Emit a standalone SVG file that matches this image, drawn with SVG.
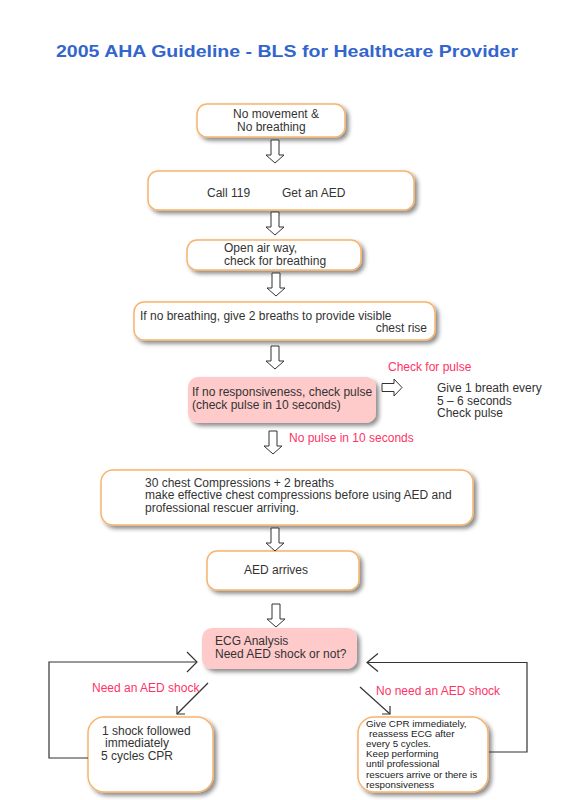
<svg xmlns="http://www.w3.org/2000/svg" xmlns:xlink="http://www.w3.org/1999/xlink" width="570" height="800" viewBox="0 0 570 800">
<style>
  text { font-family: "Liberation Sans", Arial, sans-serif; font-size: 12px; fill: #333333; }
  .title { font-size: 16.5px; font-weight: bold; fill: #3366cc; }
  .red { fill: #ff3366; }
  .small { font-size: 9.8px; fill: #222222; }
  .box { fill: #ffffff; stroke: #f7b46e; stroke-width: 1.5; }
  .pink { fill: #ffcaca; stroke: none; }
  .blk { fill: #ffffff; stroke: #333333; stroke-width: 1; }
  .conn { fill: none; stroke: #333333; stroke-width: 1.2; }
</style>
<defs>
  <filter id="sh" x="-10%" y="-10%" width="130%" height="140%">
    <feDropShadow dx="3" dy="3" stdDeviation="2" flood-color="#000000" flood-opacity="0.45"/>
  </filter>
  <path id="da" d="M-4,0 H4 V15 H9 L0,23 L-9,15 H-4 Z"/>
</defs>
<rect width="570" height="800" fill="#ffffff"/>
<text class="title" x="287" y="56.5" text-anchor="middle" textLength="462" lengthAdjust="spacingAndGlyphs">2005 AHA Guideline - BLS for Healthcare Provider</text>

<g id="n1"><rect class="box" x="197" y="104" width="148" height="33" rx="10" filter="url(#sh)"/>
<text x="233" y="118">No movement &amp;</text><text x="237" y="131">No breathing</text></g>

<g id="n2"><rect class="box" x="148" y="171" width="266" height="39" rx="10" filter="url(#sh)"/>
<text x="207" y="197">Call 119</text><text x="282" y="197">Get an AED</text></g>

<g id="n3"><rect class="box" x="187" y="240" width="174" height="30" rx="10" filter="url(#sh)"/>
<text x="224" y="252">Open air way,</text><text x="224" y="265">check for breathing</text></g>

<g id="n4"><rect class="box" x="134" y="302" width="301" height="38" rx="10" filter="url(#sh)"/>
<text x="140" y="320">If no breathing, give 2 breaths to provide visible</text><text x="427" y="332" text-anchor="end">chest rise</text></g>

<g id="n5"><rect class="pink" x="188" y="377" width="188" height="46" rx="10" filter="url(#sh)"/>
<text x="192" y="396">If no responsiveness, check pulse</text><text x="192" y="409">(check pulse in 10 seconds)</text></g>

<g id="n5b"><text x="437" y="392">Give 1 breath every</text><text x="437" y="404.5">5 – 6 seconds</text><text x="437" y="417">Check pulse</text></g>

<g id="n6"><rect class="box" x="101" y="470" width="372" height="55" rx="12" filter="url(#sh)"/>
<text x="145" y="486.5">30 chest Compressions + 2 breaths</text><text x="145" y="499">make effective chest compressions before using AED and</text><text x="145" y="511.5">professional rescuer arriving.</text></g>

<g id="n7"><rect class="box" x="207" y="551" width="152" height="39" rx="10" filter="url(#sh)"/>
<text x="244" y="574">AED arrives</text></g>

<g id="n8"><rect class="pink" x="202" y="628" width="155" height="41" rx="10" filter="url(#sh)"/>
<text x="215" y="645">ECG Analysis</text><text x="215" y="658">Need AED shock or not?</text></g>

<g id="n9"><rect class="box" x="88" y="717" width="125" height="75" rx="16" filter="url(#sh)"/>
<text x="102" y="734.5">1 shock followed</text><text x="105" y="747">immediately</text><text x="101" y="759.5">5 cycles CPR</text></g>

<g id="n10"><rect class="box" x="358" y="717" width="130" height="75" rx="16" filter="url(#sh)"/>
<text class="small" x="366" y="726.5">Give CPR immediately,</text>
<text class="small" x="369" y="736.8">reassess ECG after</text>
<text class="small" x="366" y="747">every 5 cycles.</text>
<text class="small" x="366" y="757.2">Keep performing</text>
<text class="small" x="366" y="767.4">until professional</text>
<text class="small" x="366" y="777.6">rescuers arrive or there is</text>
<text class="small" x="366" y="788">responsiveness</text></g>

<g id="connectors">
  <use xlink:href="#da" href="#da" class="blk" x="275" y="140"/>
  <use xlink:href="#da" href="#da" class="blk" x="275" y="212"/>
  <use xlink:href="#da" href="#da" class="blk" x="276" y="273"/>
  <use xlink:href="#da" href="#da" class="blk" x="275" y="346"/>
  <use xlink:href="#da" href="#da" class="blk" x="273" y="431"/>
  <use xlink:href="#da" href="#da" class="blk" x="275" y="528"/>
  <use xlink:href="#da" href="#da" class="blk" x="276" y="604"/>
  <path class="blk" d="M382,383.5 V391.5 H394 V396 L402,387.5 L394,379 V383.5 Z"/>
  <text class="red" x="388" y="371">Check for pulse</text>
  <text class="red" x="289" y="442">No pulse in 10 seconds</text>

  <path class="conn" d="M88,758 H49 V662 H196"/>
  <path class="conn" d="M187,652 L197,662 L187,672"/>
  <path class="conn" d="M489,752 H527 V662.5 H367"/>
  <path class="conn" d="M378,653.5 L367,662.5 L378,671.5"/>

  <path class="conn" d="M208,683 L177,714"/>
  <path class="conn" d="M177,706 V714 H185"/>
  <path class="conn" d="M360,687 L390,714"/>
  <path class="conn" d="M390,706 V714 H382"/>
  <text class="red" x="92" y="692">Need an AED shock</text>
  <text class="red" x="376" y="695">No need an AED shock</text>
</g>
</svg>
